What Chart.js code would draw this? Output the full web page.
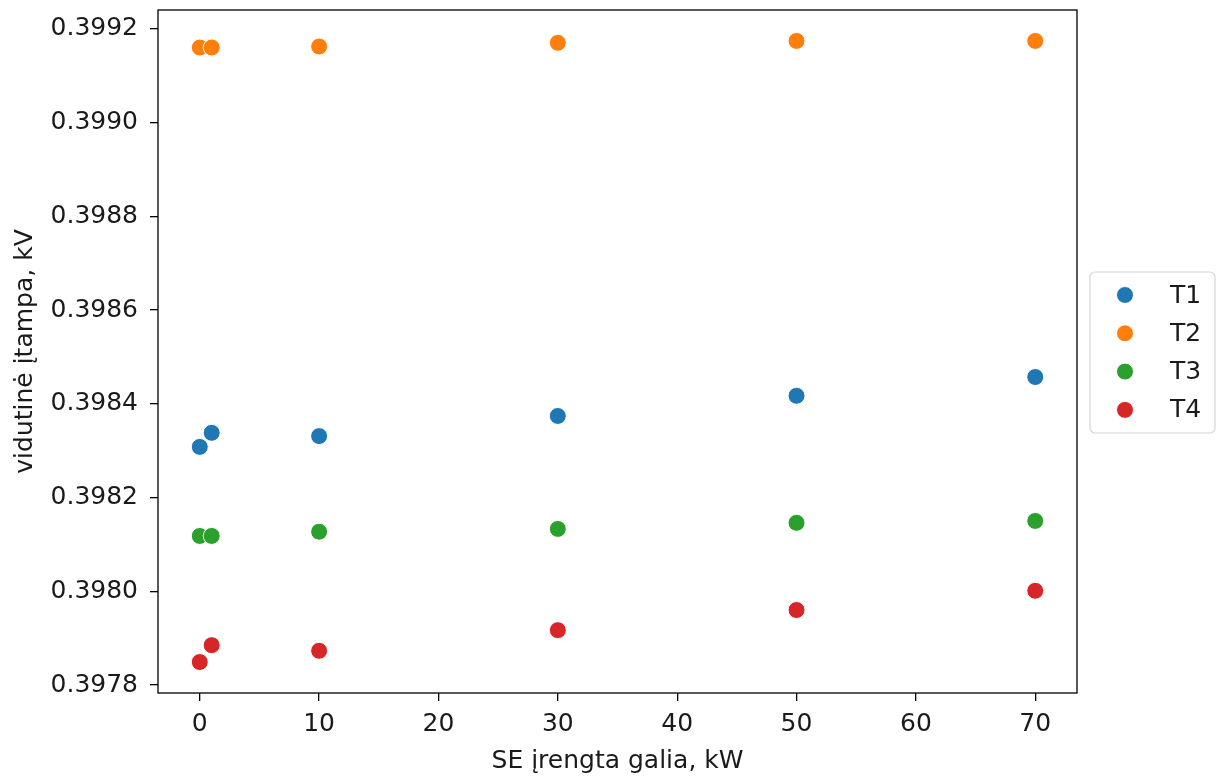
<!DOCTYPE html>
<html>
<head>
<meta charset="utf-8">
<script src="https://cdn.jsdelivr.net/npm/chart.js@4.4.1/dist/chart.umd.min.js"></script>
<style>
  body { margin: 0; background: #fff; }
  canvas { display: block; }
</style>
</head>
<body>
<canvas id="scatterChart" width="1221" height="776"></canvas>
<script>
// SE installed power, kW
const xValues = [0, 1, 10, 30, 50, 70];

// mean voltage per transformer, kV
const seriesNames = ["T1", "T2", "T3", "T4"];
const t1 = [0.398308, 0.398338, 0.398331, 0.398374, 0.398417, 0.398457];
const t2 = [0.399160, 0.399160, 0.399162, 0.399170, 0.399174, 0.399174];
const t3 = [0.398118, 0.398118, 0.398127, 0.398133, 0.398146, 0.398150];
const t4 = [0.397849, 0.397885, 0.397873, 0.397917, 0.397960, 0.398001];

const xTicks = [0, 10, 20, 30, 40, 50, 60, 70];
const yTicks = [0.3978, 0.3980, 0.3982, 0.3984, 0.3986, 0.3988, 0.3990, 0.3992];

const colors = ["#1f77b4", "#ff7f0e", "#2ca02c", "#d62728"];
const FONT = "DejaVu Sans";
const FSIZE = 25;
const TEXT = "#1a1a1a";

const datasets = [t1, t2, t3, t4].map((vals, i) => ({
    label: seriesNames[i],
    data: xValues.map((x, j) => ({ x: x, y: vals[j] })),
    backgroundColor: colors[i],
    borderColor: "#fff",
    borderWidth: 1,
    pointRadius: 8.5,
    pointHoverRadius: 8.5
}));

// frame round the plot + legend box on the right
const framePlugin = {
    id: "frame",
    afterDatasetsDraw(chart) {
        const a = chart.chartArea;
        const ctx = chart.ctx;
        ctx.save();
        ctx.strokeStyle = "#000";
        ctx.lineWidth = 1.3;
        ctx.strokeRect(a.left, a.top, a.right - a.left, a.bottom - a.top);

        // legend
        const bx = 1090, by = 272, bw = 125, bh = 161, r = 5;
        ctx.beginPath();
        ctx.moveTo(bx + r, by);
        ctx.arcTo(bx + bw, by, bx + bw, by + bh, r);
        ctx.arcTo(bx + bw, by + bh, bx, by + bh, r);
        ctx.arcTo(bx, by + bh, bx, by, r);
        ctx.arcTo(bx, by, bx + bw, by, r);
        ctx.closePath();
        ctx.fillStyle = "rgba(255,255,255,0.8)";
        ctx.fill();
        ctx.strokeStyle = "#d6d6d6";
        ctx.lineWidth = 1.2;
        ctx.stroke();

        ctx.font = FSIZE + "px '" + FONT + "'";
        ctx.textBaseline = "middle";
        ctx.textAlign = "left";
        chart.data.datasets.forEach((ds, i) => {
            const y = 295 + i * 38.3;
            ctx.beginPath();
            ctx.arc(1125, y, 8.5, 0, Math.PI * 2);
            ctx.fillStyle = ds.backgroundColor;
            ctx.fill();
            ctx.strokeStyle = "#fff";
            ctx.lineWidth = 1;
            ctx.stroke();
            ctx.fillStyle = TEXT;
            ctx.fillText(ds.label, 1170, y + 1);
        });
        ctx.restore();
    }
};

new Chart(document.getElementById("scatterChart").getContext("2d"), {
    type: "scatter",
    data: { datasets: datasets },
    options: {
        responsive: false,
        animation: false,
        events: [],
        layout: { padding: { left: 0, top: 10, right: 144, bottom: 0 } },
        plugins: {
            legend: { display: false },
            tooltip: { enabled: false }
        },
        scales: {
            x: {
                type: "linear",
                min: -3.5,
                max: 73.5,
                afterBuildTicks: s => { s.ticks = xTicks.map(v => ({ value: v })); },
                afterFit: s => { s.height = 83; s.paddingLeft = 0; s.paddingRight = 0; },
                ticks: {
                    font: { family: FONT, size: FSIZE },
                    color: TEXT,
                    padding: 8,
                    maxRotation: 0,
                    callback: v => String(v)
                },
                grid: { drawOnChartArea: false, drawTicks: true, tickLength: 8, color: "#000", lineWidth: 1.3 },
                border: { display: false },
                title: {
                    display: true,
                    text: "SE įrengta galia, kW",
                    font: { family: FONT, size: FSIZE },
                    color: TEXT,
                    padding: { top: 0, bottom: 0 }
                }
            },
            y: {
                type: "linear",
                min: 0.397783,
                max: 0.39924,
                afterBuildTicks: s => { s.ticks = yTicks.map(v => ({ value: v })); },
                afterFit: s => { s.width = 158; s.paddingTop = 0; s.paddingBottom = 0; },
                ticks: {
                    font: { family: FONT, size: FSIZE },
                    color: TEXT,
                    padding: 12,
                    callback: v => v.toFixed(4)
                },
                grid: { drawOnChartArea: false, drawTicks: true, tickLength: 8, color: "#000", lineWidth: 1.3 },
                border: { display: false },
                title: {
                    display: true,
                    text: "vidutinė įtampa, kV",
                    font: { family: FONT, size: FSIZE },
                    color: TEXT,
                    padding: { top: 10, bottom: 0 }
                }
            }
        }
    },
    plugins: [framePlugin]
});
</script>
</body>
</html>
